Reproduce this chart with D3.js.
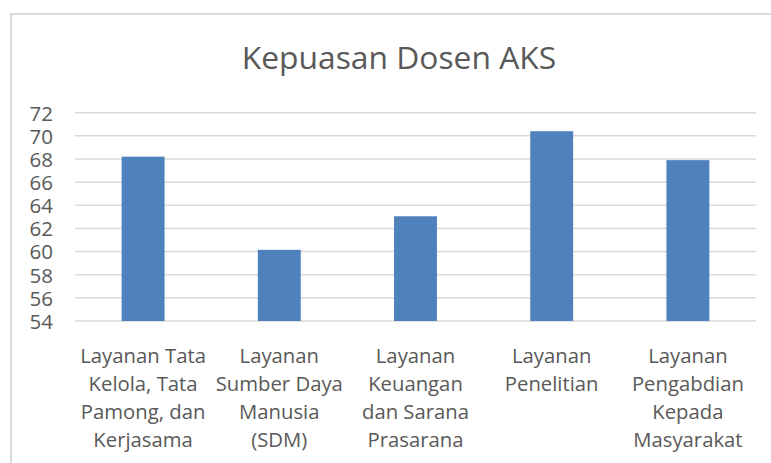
<!DOCTYPE html>
<html><head><meta charset="utf-8">
<script src="https://cdn.jsdelivr.net/npm/d3@7"></script>
<style>body{margin:0;background:#fff}svg{display:block}</style>
</head><body>
<svg id="c" width="771" height="463"></svg>
<script>
const title = "Kepuasan Dosen AKS";
const categories = [
  ["Layanan Tata", "Kelola, Tata", "Pamong, dan", "Kerjasama"],
  ["Layanan", "Sumber Daya", "Manusia", "(SDM)"],
  ["Layanan", "Keuangan", "dan Sarana", "Prasarana"],
  ["Layanan", "Penelitian"],
  ["Layanan", "Pengabdian", "Kepada", "Masyarakat"]
];
const values = [68.2, 60.15, 63.05, 70.4, 67.9];
const yTicks = [54, 56, 58, 60, 62, 64, 66, 68, 70, 72];

const svg = d3.select("#c");
const font = "'Open Sans', sans-serif";
const txt = "#595959";

// chart area border
svg.append("rect").attr("x", 11).attr("y", 14).attr("width", 800).attr("height", 500)
  .attr("fill", "none").attr("stroke", "#d9d9d9").attr("stroke-width", 2);

const x = d3.scaleBand().domain(d3.range(categories.length)).range([75, 756]).paddingInner(0.685).paddingOuter(0.3425);
const y = d3.scaleLinear().domain([54, 72]).range([321, 112.7]);

// gridlines
svg.append("g").selectAll("line").data(yTicks).join("line")
  .attr("x1", 75).attr("x2", 756)
  .attr("y1", d => y(d)).attr("y2", d => y(d))
  .attr("stroke", "#d9d9d9").attr("stroke-width", 1.5);

// bars
svg.append("g").selectAll("rect").data(values).join("rect")
  .attr("x", (d, i) => x(i)).attr("width", x.bandwidth())
  .attr("y", d => y(d)).attr("height", d => y(54) - y(d))
  .attr("fill", "#4f81bd");

// y axis
const yAxis = d3.axisLeft(y).tickValues(yTicks).tickSize(0).tickPadding(0).tickFormat(d3.format("d"));
const ga = svg.append("g").attr("transform", "translate(53,0)").call(yAxis);
ga.select(".domain").remove();
ga.selectAll("text").attr("font-family", font).attr("font-size", 20.5).attr("fill", txt).attr("dy", "0.36em");

// x labels
const xl = svg.append("g");
categories.forEach((lines, i) => {
  const cx = x(i) + x.bandwidth() / 2;
  const t = xl.append("text").attr("x", cx).attr("y", 362).attr("text-anchor", "middle")
    .attr("font-family", font).attr("font-size", 20.3).attr("fill", txt);
  lines.forEach((ln, j) => t.append("tspan").attr("x", cx).attr("y", 362.5 + j * 28.3).text(ln));
});

// title
svg.append("text").attr("x", 399).attr("y", 68.5).attr("text-anchor", "middle")
  .attr("font-family", font).attr("font-size", 31.8).attr("fill", txt).text(title);
</script>
</body></html>
